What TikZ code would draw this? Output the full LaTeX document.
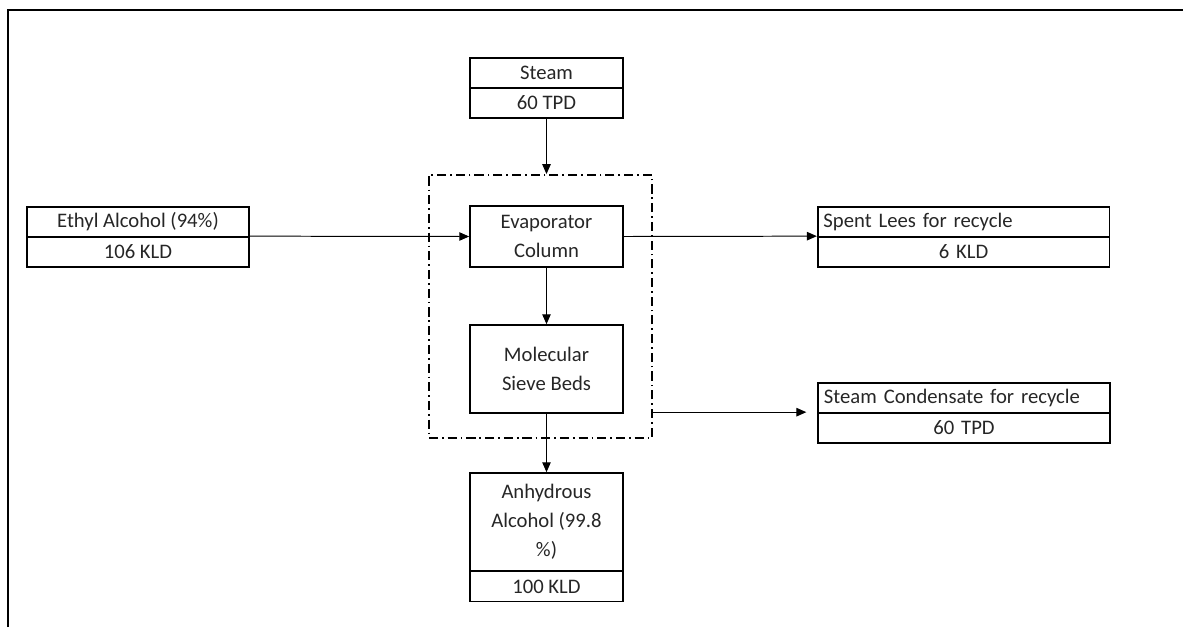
\documentclass[tikz,border=0pt]{standalone}
\usepackage{fontspec}
\setmainfont{Carlito}
\usetikzlibrary{arrows.meta}
\tikzset{
  blk/.style={draw, line width=1.2pt, inner sep=0pt, minimum width=3.825cm, minimum height=0.75cm, align=center},
  wideblk/.style={blk, minimum width=7.29cm, text width=7.0cm, inner xsep=4pt},
  flow/.style={-{Triangle[length=7pt,width=6pt]}, line width=0.7pt},
  unitbox/.style={draw, line width=1.3pt, dash pattern=on 6.5pt off 2.8pt on 1.2pt off 2.8pt, minimum width=5.575cm, minimum height=6.575cm}
}
\begin{document}
\begin{tikzpicture}[x=0.025cm, y=-0.025cm, font=\fontsize{14.7}{20.5}\selectfont, text=black!85]
\useasboundingbox (0,0) rectangle (1183,627);
\draw [line width=1.5pt] (8,627) -- (8,10) -- (1183,10);
\node [unitbox] (unit) at (540.5,306.5) {};
\node [blk] (steam) at (546.5,73) {Steam};
\node [blk] (steamq) at (546.5,103) {60 TPD};
\node [blk, minimum width=5.55cm] (ethyl) at (138,222) {Ethyl Alcohol (94\%)};
\node [blk, minimum width=5.55cm] (ethylq) at (138,252) {106 KLD};
\node [blk, minimum height=1.525cm] (evap) at (546.5,236.5) {Evaporator\\Column};
\node [blk, minimum height=2.2cm] (sieve) at (546.5,369) {Molecular\\Sieve Beds};
\node [blk, minimum height=2.45cm] (anh) at (546.5,522) {Anhydrous\\Alcohol (99.8\\\%)};
\node [blk] (anhq) at (546.5,586.5) {100 KLD};
\node [wideblk, align=left] (lees) at (963.5,222) {Spent Lees for recycle};
\node [wideblk] (leesq) at (963.5,252) {6 KLD};
\node [wideblk, align=left] (cond) at (964,398) {Steam Condensate for recycle};
\node [wideblk] (condq) at (964,428) {60 TPD};
\draw [flow] (steamq.south) -- (steamq.south |- unit.north);
\draw [flow] (ethylq.north east) -- (evap.west);
\draw [flow] (evap.east) -- (leesq.north west);
\draw [flow] (evap.south) -- (sieve.north);
\draw [flow] (sieve.south) -- (anh.north);
\draw [flow, shorten >=0.275cm] (unit.east |- condq.north west) -- (condq.north west);
\end{tikzpicture}
\end{document}
